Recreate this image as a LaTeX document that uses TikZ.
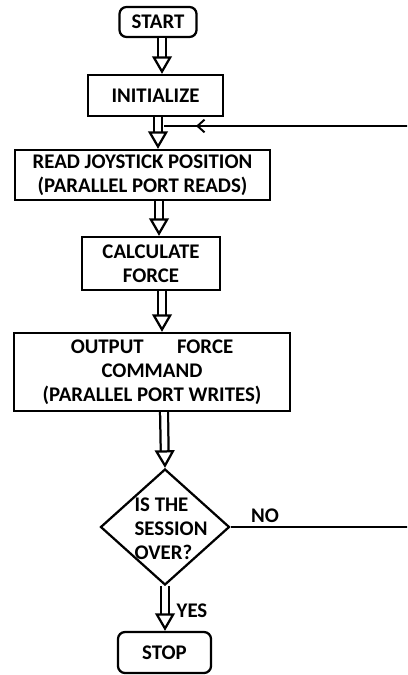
\documentclass[tikz,border=0pt]{standalone}
\usepackage{fontspec}
\setmainfont{Carlito}
\usetikzlibrary{positioning,arrows.meta,shapes.geometric,decorations.markings}

\begin{document}
\begin{tikzpicture}[x=0.025cm,y=-0.025cm,
    box/.style={draw,line width=1.6pt,align=center,inner sep=0pt,
        font=\bfseries\fontsize{14.8}{17}\selectfont},
    term/.style={box,rounded corners=5pt},
    decide/.style={box,diamond},
    dbl/.style={double distance=4pt,line width=1.6pt,
        -{Triangle[open,length=12.5pt,width=14pt,line width=1.6pt]}},
    back/.style={line width=1.4pt,postaction={decorate},
        decoration={markings,mark=at position -0.8cm with {\arrow{Straight Barb[length=5pt,width=9pt,line width=1.4pt]}}}},
    lbl/.style={font=\bfseries\fontsize{14.8}{17}\selectfont,inner sep=0pt}]
    \useasboundingbox (0,0) rectangle (407,675);
    \clip (0,0) rectangle (407,675);

    \node[term,minimum width=1.925cm,minimum height=0.75cm] (start) at (158,22) {START};
    \node[box,minimum width=3.375cm,minimum height=1.025cm] (init) at (155.5,95.5) {INITIALIZE};
    \node[box,minimum width=6.375cm,minimum height=1.25cm] (read) at (142.5,175) {READ JOYSTICK POSITION\\(PARALLEL PORT READS)};
    \node[box,minimum width=3.45cm,minimum height=1.325cm] (calc) at (151,263.5) {CALCULATE\\FORCE};
    \node[box,minimum width=6.9cm,minimum height=1.95cm] (out) at (152,372) {OUTPUT\hspace{1.6em}FORCE\\COMMAND\\(PARALLEL PORT WRITES)};
    \node[decide,minimum width=3.225cm,minimum height=2.9cm,
        label={[lbl,align=left,xshift=4.3pt,yshift=-1pt]center:IS THE\\SESSION\\OVER?}] (dec) at (165,527) {};
    \node[term,minimum width=2.325cm,minimum height=1.025cm] (stop) at (164.5,652.5) {STOP};

    \node[lbl] (no) at (265,516) {NO};
    \node[lbl] (yes) at (192,611) {YES};
    \coordinate (join) at (164,126);

    % main flow
    \draw[dbl] (start.south -| 162,0) -- (init.north -| 162,0);
    \draw[dbl] (init.south -| 158,0) -- (read.north -| 158,0);
    \draw[dbl] (read.south -| 159,0) -- (calc.north -| 159,0);
    \draw[dbl] (calc.south -| 162,0) -- (out.north -| 162,0);
    \draw[dbl] (out.south -| 164,0) -- (dec.north);
    \draw[dbl] (dec.south) -- (stop.north -| dec.south);

    % loop back when not done
    \draw[back] (dec.east) -- (412,527) -- (412,126) -- (join);
\end{tikzpicture}
\end{document}
